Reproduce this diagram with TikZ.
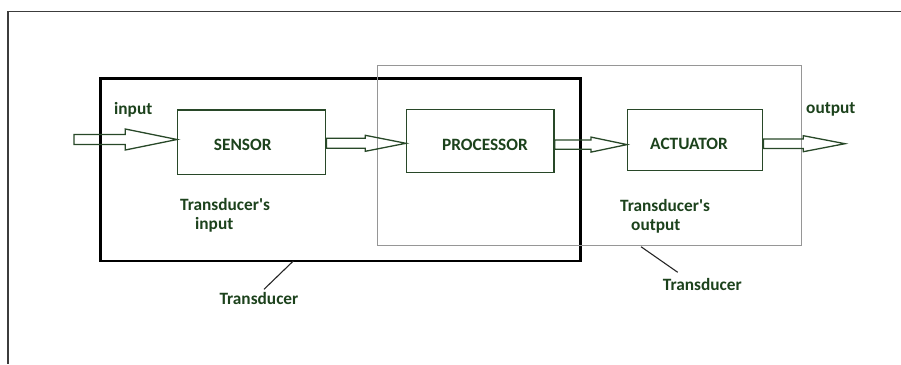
\documentclass[tikz,border=0pt]{standalone}
\usepackage{fontspec}
\setmainfont{Carlito}[Ligatures=TeXOff]
\usetikzlibrary{calc}
\definecolor{txtgreen}{RGB}{28,66,28}
\definecolor{boxgreen}{RGB}{40,72,40}
\definecolor{framegray}{RGB}{60,60,60}
\definecolor{lightgray}{RGB}{150,150,150}
\tikzset{
  lbl/.style={font=\fontsize{17.3}{20}\selectfont\bfseries, text=txtgreen, inner sep=0pt, anchor=base west},
  caps/.style={font=\fontsize{17.3}{20}\selectfont\bfseries, text=txtgreen, inner sep=0pt},
  block/.style={draw=boxgreen, line width=1.4pt, inner sep=0pt, minimum width=#1},
  arrowline/.style={draw=boxgreen, line width=1.3pt, line join=miter},
  leader/.style={draw=black!85, line width=1.1pt},
}
% #1 start coord, #2 tip coord, #3 head length, #4 shaft half height, #5 head half height
\newcommand\blockarr[5]{%
  \draw[arrowline] let \p1=(#1), \p2=(#2) in
    (\x1,\y1+#4pt) -- (\x2-#3pt,\y1+#4pt) -- (\x2-#3pt,\y1+#5pt) -- (\x2,\y1)
    -- (\x2-#3pt,\y1-#5pt) -- (\x2-#3pt,\y1-#4pt) -- (\x1,\y1-#4pt) -- cycle;}
\begin{document}
\begin{tikzpicture}[x=1pt,y=-1pt]
\useasboundingbox (0,0) rectangle (901,364);
% outer frame
\coordinate (fTL) at (8,11.5);
\coordinate (fTR) at (901,11.5);
\coordinate (fBL) at (8,364);
\draw[framegray, line width=1.8pt] (fTR) -- (fTL) -- (fBL);
% transducer boxes
\node[draw=black, line width=2.6pt, minimum width=480pt, minimum height=182.7pt, inner sep=0pt] (tin) at (340.7,169.65) {};
\node[draw=lightgray, line width=1pt, minimum width=423.3pt, minimum height=180.7pt, inner sep=0pt] (tout) at (589.35,155.35) {};
% blocks
\node[block=148pt, minimum height=64.3pt] (sensor) at (251.7,142.2) {};
\node[block=147.3pt, minimum height=63.4pt] (proc) at (480.3,141) {};
\node[block=135pt, minimum height=61.4pt] (act) at (695.2,140) {};
\node[caps] (tsensor) at (242.7,145) {SENSOR};
\node[caps] (tproc) at (485,145) {PROCESSOR};
\node[caps] (tact) at (689,144) {ACTUATOR};
% arrows
\coordinate (inp) at (74,139.5);
\coordinate (s2p) at (sensor.east |- 0,143.3);
\coordinate (p2a) at (proc.east |- 0,144.6);
\coordinate (a2o) at (act.east |- 0,143.7);
\coordinate (outtip) at (845,143.7);
\blockarr{inp}{sensor.west |- inp}{51.7}{5}{10.5}
\blockarr{s2p}{proc.west |- s2p}{40.7}{5}{8}
\blockarr{p2a}{act.west |- p2a}{36}{4.7}{7.5}
\blockarr{a2o}{outtip}{41.7}{4.7}{8}
% labels
\node[lbl] (linput) at (114,114) {input};
\node[lbl] (loutput) at (806,113.3) {output};
\node[lbl] (ltin1) at (180,210.7) {Transducer's};
\node[lbl] (ltin2) at (195,229.3) {input};
\node[lbl] (ltout1) at (620,211.7) {Transducer's};
\node[lbl] (ltout2) at (631,230.7) {output};
\node[lbl] (ltl) at (219.3,304.3) {Transducer};
\node[lbl] (ltr) at (662.7,290.7) {Transducer};
% leader lines
\coordinate (lA) at (293.3,261);
\coordinate (lB) at (264,289.3);
\coordinate (rA) at (641,246.7);
\coordinate (rB) at (677.7,272.3);
\draw[leader] (lA) -- (lB);
\draw[leader] (rA) -- (rB);
\end{tikzpicture}
\end{document}
